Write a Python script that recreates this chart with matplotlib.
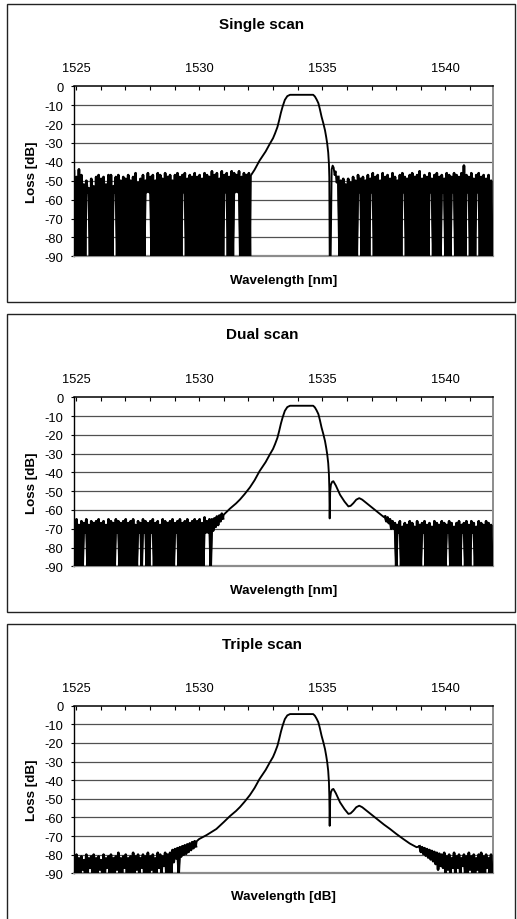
import numpy as np
import matplotlib
matplotlib.use("Agg")
import matplotlib.pyplot as plt
from matplotlib.patches import Rectangle
from matplotlib.ticker import MultipleLocator

plt.rcParams['font.family'] = ['Liberation Sans', 'DejaVu Sans']

# ---------------- data ----------------
TITLES = ["Single scan", "Dual scan", "Triple scan"]
XLABELS = ["Wavelength [nm]", "Wavelength [nm]", "Wavelength [dB]"]
YLABEL = "Loss [dB]"
XTICKS = [1525, 1530, 1535, 1540]
YTICKS = [0, -10, -20, -30, -40, -50, -60, -70, -80, -90]

CURVE_WL = [1528.9, 1529.2, 1529.5, 1529.9, 1530.0, 1530.3, 1530.7, 1531.0, 1531.25, 1531.5,
            1531.66, 1531.85, 1532.06, 1532.1, 1532.25, 1532.45, 1532.7, 1532.88, 1533.0, 1533.08,
            1533.18, 1533.25, 1533.32, 1533.39, 1533.48, 1533.58, 1533.69, 1534.0, 1534.3, 1534.63,
            1534.70, 1534.77, 1534.84, 1534.9, 1534.97, 1535.04, 1535.11, 1535.16, 1535.20, 1535.24,
            1535.27, 1535.285, 1535.30, 1535.32, 1535.35, 1535.40, 1535.45, 1535.55, 1535.72, 1535.9,
            1536.06, 1536.15, 1536.26, 1536.38, 1536.50, 1536.62, 1536.80, 1537.0, 1537.21, 1537.5,
            1537.75, 1538.0, 1538.29, 1538.55, 1538.83, 1539.1, 1539.37, 1539.6, 1539.91]
CURVE_DB = [-79, -77.5, -75.5, -72.8, -71.6, -69.5, -66.2, -62.5, -59.3, -56.5,
            -54.4, -51.5, -48.0, -47.2, -44.2, -39.4, -34.5, -30.2, -27.5, -25,
            -21.5, -17.9, -14, -10.7, -7.2, -5.2, -4.5, -4.5, -4.5, -4.5,
            -5.4, -7, -8.9, -12, -16.1, -19.5, -23.3, -27, -30.4, -35,
            -41.2, -48.3, -64.5, -50, -46.5, -45, -44.7, -47, -51.9, -55.5,
            -58.1, -57.8, -56.4, -54.5, -53.7, -54.5, -56.4, -58.5, -60.8, -63.8,
            -66.2, -68.8, -71.6, -74, -76, -78, -79.6, -80.5, -81.4]

# part of the filter curve shown clean in each panel
CURVE_RANGES = [(1532.1, 1535.285), (1531.0, 1537.5), (1529.9, 1538.83)]

# single scan: trace just after the notch
P1_TAIL_WL = [1535.30, 1535.34, 1535.38, 1535.42, 1535.46, 1535.50, 1535.54, 1535.58, 1535.62]
P1_TAIL_DB = [-90, -90, -44, -42, -43, -47, -45, -51, -48]

# noise floor: sample peaks (TOP) and troughs (BOT), 0.1 nm pitch
P1_LEFT_START = 1524.92
P1_LEFT_TOP = [-45, -48, -44, -47, -52, -50, -54, -49, -53, -48,
               -47, -49, -48, -52, -47, -47, -53, -48, -47, -50,
               -48, -49, -47, -50, -48, -46, -51, -49, -47, -50,
               -46, -48, -47, -50, -46, -47, -49, -46, -48, -47,
               -50, -47, -46, -48, -47, -46, -49, -47, -48, -46,
               -48, -47, -49, -46, -47, -48, -45, -47, -46, -49,
               -45, -47, -46, -48, -45, -46, -47, -45, -48, -46,
               -47, -46]
P1_LEFT_BOT = [-90, -90, -90, -90, -90, -56, -90, -90, -90, -90,
               -90, -90, -90, -90, -90, -90, -56, -90, -90, -90,
               -90, -90, -90, -90, -90, -90, -90, -90, -90, -56,
               -56, -90, -90, -90, -90, -90, -90, -90, -90, -90,
               -90, -90, -90, -90, -56, -90, -90, -90, -90, -90,
               -90, -90, -90, -90, -90, -90, -90, -90, -90, -90,
               -90, -56, -90, -90, -90, -56, -56, -90, -90, -90,
               -90, -90]
P1_RIGHT_START = 1535.65
P1_RIGHT_TOP = [-48, -50, -49, -52, -49, -51, -48, -50, -47, -49,
                -48, -50, -47, -49, -46, -48, -47, -50, -46, -48,
                -47, -49, -46, -48, -50, -47, -46, -48, -49, -47,
                -46, -48, -47, -45, -49, -47, -48, -46, -49, -47,
                -46, -48, -47, -49, -46, -47, -48, -46, -47, -48,
                -46, -42, -47, -48, -46, -49, -47, -46, -48, -47,
                -49, -47, -50]
P1_RIGHT_BOT = [-90, -90, -90, -90, -90, -90, -90, -90, -56, -90,
                -90, -90, -90, -56, -90, -90, -90, -90, -90, -90,
                -90, -90, -90, -90, -90, -90, -56, -90, -90, -90,
                -90, -90, -90, -90, -90, -90, -90, -56, -90, -90,
                -90, -90, -56, -90, -90, -90, -56, -90, -90, -90,
                -90, -90, -56, -90, -90, -90, -56, -90, -90, -90,
                -90, -90, -90]

P2_LEFT_START = 1524.92
P2_LEFT_TOP = [-67, -65, -68, -66, -67, -65, -68, -66, -67, -66,
               -65, -67, -66, -68, -65, -66, -67, -65, -66, -67,
               -66, -65, -67, -66, -65, -68, -66, -67, -65, -66,
               -67, -66, -65, -67, -66, -68, -65, -66, -67, -66,
               -65, -67, -66, -65, -67, -66, -65, -67, -66, -65,
               -66, -65, -67, -64, -66, -65,
               -65, -64.5, -63.5, -63, -62]
P2_LEFT_BOT = [-90, -90, -90, -90, -72, -90, -90, -90, -90, -90,
               -90, -90, -90, -90, -90, -90, -90, -72, -90, -90,
               -90, -90, -90, -90, -90, -90, -72, -90, -72, -90,
               -90, -72, -90, -90, -90, -90, -90, -90, -90, -90,
               -90, -72, -90, -90, -90, -90, -90, -90, -90, -90,
               -90, -90, -90, -72, -72, -90,
               -71, -69, -68, -66, -64.5]
P2_RIGHT_START = 1537.55
P2_RIGHT_TOP = [-63.5, -64, -65, -66,
                -67, -68, -66, -69, -67, -68, -66, -67, -69, -66,
                -68, -67, -66, -68, -67, -69, -66, -67, -68, -66,
                -67, -68, -66, -67, -69, -67, -66, -68, -67, -66,
                -68, -66, -67, -69, -66, -67, -68, -66, -67, -68]
P2_RIGHT_BOT = [-66, -67, -70, -70,
                -90, -72, -90, -90, -90, -90, -90, -90, -90, -90,
                -90, -72, -90, -90, -90, -90, -90, -90, -90, -90,
                -90, -72, -90, -90, -90, -90, -90, -72, -90, -90,
                -90, -72, -90, -90, -90, -90, -90, -90, -90, -90]

P3_LEFT_START = 1524.92
P3_LEFT_TOP = [-81, -80, -82, -81, -83, -80, -82, -81, -80, -82,
               -81, -83, -80, -82, -81, -80, -82, -81, -79, -82,
               -81, -80, -82, -81, -79, -81, -80, -82, -80, -81,
               -79, -81, -80, -82, -79, -80, -81, -79, -80, -79,
               -77.5, -77, -76.5, -76, -75.5, -75, -74.5, -74, -73.3, -72.8]
P3_LEFT_BOT = [-90, -90, -90, -88, -90, -90, -87, -90, -90, -90,
               -88, -90, -90, -87, -90, -90, -90, -88, -90, -90,
               -87, -90, -90, -90, -90, -88, -90, -87, -90, -90,
               -90, -88, -90, -90, -87, -90, -86, -90, -90, -90,
               -84, -82, -90, -81, -80, -79.5, -78.5, -77.5, -76.5, -75.5]
P3_RIGHT_START = 1538.95
P3_RIGHT_TOP = [-75.5, -76, -76.5, -77, -77.5, -78, -78.5, -79, -79.5, -80,
                -79, -81, -80, -82, -79, -81, -80, -82, -80, -81,
                -79, -81, -80, -82, -80, -79, -81, -80, -82, -80]
P3_RIGHT_BOT = [-78.5, -79.5, -80.5, -81.5, -82.5, -83.5, -85, -88, -86, -87,
                -90, -88, -90, -87, -90, -87, -90, -86, -90, -90,
                -88, -90, -90, -88, -90, -90, -90, -87, -90, -90]

NOISE = [
    ((P1_LEFT_START, P1_LEFT_TOP, P1_LEFT_BOT), (P1_RIGHT_START, P1_RIGHT_TOP, P1_RIGHT_BOT)),
    ((P2_LEFT_START, P2_LEFT_TOP, P2_LEFT_BOT), (P2_RIGHT_START, P2_RIGHT_TOP, P2_RIGHT_BOT)),
    ((P3_LEFT_START, P3_LEFT_TOP, P3_LEFT_BOT), (P3_RIGHT_START, P3_RIGHT_TOP, P3_RIGHT_BOT)),
]
TAILS = [(P1_TAIL_WL, P1_TAIL_DB), ([], []), ([], [])]


def noise_xy(start, tops, bots, step=0.1):
    n = len(tops)
    xs = start + step * np.arange(n)
    x = np.empty(2 * n)
    y = np.empty(2 * n)
    x[0::2] = xs
    x[1::2] = xs + step / 2
    y[0::2] = tops
    y[1::2] = bots
    return x, y


# ---------------- layout (pixels) ----------------
W, H = 517, 920
fig = plt.figure(figsize=(W / 100, H / 100), dpi=100)
fig.patch.set_facecolor('white')

AX_L, AX_R = 74, 493
PLOT_TB = [(87.3, 257.3), (398.3, 567.3), (706.7, 874.3)]
FRAMES = [(5, 303), (315, 613), (625, 925)]
TITLE_Y = [25, 335, 645]
XLAB_Y = [281, 591, 897]

cw = np.array(CURVE_WL)
cd = np.array(CURVE_DB)

for k in range(3):
    top, bot = PLOT_TB[k]
    ax = fig.add_axes([AX_L / W, 1 - bot / H, (AX_R - AX_L) / W, (bot - top) / H])

    (ls, lt, lb), (rs, rt, rb) = NOISE[k]
    xl, yl = noise_xy(ls, lt, lb)
    xr, yr = noise_xy(rs, rt, rb)
    lo, hi = CURVE_RANGES[k]
    m = (cw >= lo) & (cw <= hi)
    tw, td = TAILS[k]
    x = np.concatenate([xl, cw[m], np.array(tw, dtype=float), xr])
    y = np.concatenate([yl, cd[m], np.array(td, dtype=float), yr])
    # whole trace
    ax.plot(x, y, color='black', lw=1.35, solid_joinstyle='round', zorder=3)
    # the dense noisy parts of the trace render as a heavier band
    ax.plot(xl, yl, color='black', lw=1.9, solid_joinstyle='round', zorder=3)
    ax.plot(xr, yr, color='black', lw=1.9, solid_joinstyle='round', zorder=3)

    ax.set_xlim(1524.92, 1541.93)
    ax.set_ylim(-90, 0)
    ax.set_yticks(YTICKS)
    ax.set_yticklabels([str(v) for v in YTICKS])
    for v in YTICKS[1:-1]:
        ax.axhline(v, color='#505050', lw=0.9, zorder=1)

    ax.xaxis.set_ticks_position('top')
    ax.xaxis.set_label_position('top')
    ax.set_xticks(XTICKS)
    ax.set_xticklabels([str(v) for v in XTICKS])
    ax.xaxis.set_minor_locator(MultipleLocator(1))
    ax.tick_params(axis='x', which='both', direction='in', length=3.2, width=0.8,
                   color='black', labelsize=9.3, pad=8.5)
    ax.tick_params(axis='y', which='both', direction='out', length=2.3, width=0.8,
                   color='black', labelsize=9.3, pad=5.4, right=False)

    ax.spines['top'].set_color('black')
    ax.spines['top'].set_linewidth(1.1)
    ax.spines['left'].set_color('black')
    ax.spines['left'].set_linewidth(1.0)
    ax.spines['right'].set_color('#8c8c8c')
    ax.spines['right'].set_linewidth(1.4)
    ax.spines['bottom'].set_color('#8c8c8c')
    ax.spines['bottom'].set_linewidth(1.6)
    ax.set_facecolor('white')

    # frame
    ft, fb = FRAMES[k]
    fig.add_artist(Rectangle((7 / W, 1 - fb / H), (515 - 7) / W, (fb - ft) / H,
                             transform=fig.transFigure, fill=False,
                             edgecolor='#222222', lw=1.0))
    fig.text(262 / W, 1 - TITLE_Y[k] / H, TITLES[k], ha='center', va='center',
             fontsize=11, fontweight='bold')
    fig.text(283.5 / W, 1 - XLAB_Y[k] / H, XLABELS[k], ha='center', va='center',
             fontsize=9.6, fontweight='bold')
    fig.text(32 / W, 1 - (top + bot) / 2 / H, YLABEL, ha='center', va='center',
             rotation=90, fontsize=9.6, fontweight='bold')

fig.savefig('out.png', dpi=100, facecolor='white')
